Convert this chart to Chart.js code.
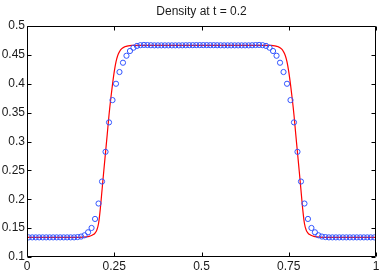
<!DOCTYPE html>
<html>
<head>
<meta charset="utf-8">
<script src="https://cdn.jsdelivr.net/npm/chart.js@4.4.0/dist/chart.umd.min.js"></script>
<style>
  html, body { margin: 0; padding: 0; background: #fff; }
</style>
</head>
<body>
<canvas id="densityChart" width="382" height="272"></canvas>
<script>
// cell centres of the numerical solution
const cellX = [
    0.005, 0.015, 0.025, 0.035, 0.045, 0.055, 0.065, 0.075, 0.085, 0.095,
    0.105, 0.115, 0.125, 0.135, 0.145, 0.155, 0.165, 0.175, 0.185, 0.195,
    0.205, 0.215, 0.225, 0.235, 0.245, 0.255, 0.265, 0.275, 0.285, 0.295,
    0.305, 0.315, 0.325, 0.335, 0.345, 0.355, 0.365, 0.375, 0.385, 0.395,
    0.405, 0.415, 0.425, 0.435, 0.445, 0.455, 0.465, 0.475, 0.485, 0.495,
    0.505, 0.515, 0.525, 0.535, 0.545, 0.555, 0.565, 0.575, 0.585, 0.595,
    0.605, 0.615, 0.625, 0.635, 0.645, 0.655, 0.665, 0.675, 0.685, 0.695,
    0.705, 0.715, 0.725, 0.735, 0.745, 0.755, 0.765, 0.775, 0.785, 0.795,
    0.805, 0.815, 0.825, 0.835, 0.845, 0.855, 0.865, 0.875, 0.885, 0.895,
    0.905, 0.915, 0.925, 0.935, 0.945, 0.955, 0.965, 0.975, 0.985, 0.995
];

// numerical density (blue circles)
const density = [
    0.134, 0.134, 0.134, 0.134, 0.134, 0.134, 0.134, 0.134, 0.134, 0.134,
    0.134, 0.134, 0.134, 0.134, 0.1345, 0.1354, 0.1376, 0.1428, 0.1503, 0.1659,
    0.1926, 0.2307, 0.2821, 0.3331, 0.3717, 0.4000, 0.4203, 0.4364, 0.4485, 0.4567,
    0.4624, 0.4655, 0.4668, 0.4672, 0.4670, 0.4667, 0.4665, 0.4665, 0.4665, 0.4665,
    0.4665, 0.4665, 0.4665, 0.4665, 0.4666, 0.4667, 0.4668, 0.4668, 0.4669, 0.4669,
    0.4669, 0.4669, 0.4668, 0.4668, 0.4667, 0.4666, 0.4665, 0.4665, 0.4665, 0.4665,
    0.4665, 0.4665, 0.4665, 0.4665, 0.4667, 0.4670, 0.4672, 0.4668, 0.4655, 0.4624,
    0.4567, 0.4485, 0.4364, 0.4203, 0.4000, 0.3717, 0.3331, 0.2821, 0.2307, 0.1926,
    0.1659, 0.1503, 0.1428, 0.1376, 0.1354, 0.1345, 0.134, 0.134, 0.134, 0.134,
    0.134, 0.134, 0.134, 0.134, 0.134, 0.134, 0.134, 0.134, 0.134, 0.134
];

// reference solution (red line)
const exactX = [
    0, 0.15, 0.17, 0.18, 0.19, 0.195, 0.2, 0.205, 0.21, 0.215, 0.22, 0.225,
    0.23, 0.235, 0.24, 0.245, 0.25, 0.255, 0.26, 0.265, 0.27, 0.28, 0.29, 0.3,
    0.5,
    0.7, 0.71, 0.72, 0.73, 0.735, 0.74, 0.745, 0.75, 0.755, 0.76, 0.765, 0.77,
    0.775, 0.78, 0.785, 0.79, 0.795, 0.8, 0.805, 0.81, 0.82, 0.83, 0.85, 1
];
const exactDensity = [
    0.134, 0.134, 0.1347, 0.1362, 0.1388, 0.1415, 0.1465, 0.158, 0.183, 0.216, 0.249, 0.281,
    0.313, 0.346, 0.374, 0.399, 0.421, 0.438, 0.449, 0.4555, 0.46, 0.464, 0.4657, 0.4663,
    0.4664,
    0.4663, 0.4657, 0.464, 0.46, 0.4555, 0.449, 0.438, 0.421, 0.399, 0.374, 0.346, 0.313,
    0.281, 0.249, 0.216, 0.183, 0.158, 0.1465, 0.1415, 0.1388, 0.1362, 0.1347, 0.134, 0.134
];

const xTicks = [0, 0.25, 0.5, 0.75, 1];
const xTickLabels = ['0', '0.25', '0.5', '0.75', '1'];
const yTicks = [0.1, 0.15, 0.2, 0.25, 0.3, 0.35, 0.4, 0.45, 0.5];
const yTickLabels = ['0.1', '0.15', '0.2', '0.25', '0.3', '0.35', '0.4', '0.45', '0.5'];

const fontFamily = "'Liberation Sans', Arial, Helvetica, sans-serif";
const textColor = '#1a1a1a';

// box around the axes with small inward tick marks, like matlab
const boxPlugin = {
    id: 'matlabBox',
    afterDraw(chart) {
        const ctx = chart.ctx;
        const area = chart.chartArea;
        const left = Math.round(area.left) + 0.5;
        const right = Math.round(area.right) - 0.5;
        const top = Math.round(area.top) + 0.5;
        const bottom = Math.round(area.bottom) - 0.5;
        const len = 4;

        ctx.save();
        ctx.strokeStyle = '#000';
        ctx.lineWidth = 1;
        ctx.beginPath();
        ctx.rect(left, top, right - left, bottom - top);

        xTicks.forEach(v => {
            const px = Math.round(chart.scales.x.getPixelForValue(v)) + 0.5;
            ctx.moveTo(px, bottom);
            ctx.lineTo(px, bottom - len);
            ctx.moveTo(px, top);
            ctx.lineTo(px, top + len);
        });
        yTicks.forEach(v => {
            const py = Math.round(chart.scales.y.getPixelForValue(v)) + 0.5;
            ctx.moveTo(left, py);
            ctx.lineTo(left + len, py);
            ctx.moveTo(right, py);
            ctx.lineTo(right - len, py);
        });
        ctx.stroke();
        ctx.restore();
    }
};

new Chart(document.getElementById('densityChart'), {
    type: 'scatter',
    data: {
        datasets: [{
            label: 'numerical',
            data: cellX.map((x, i) => ({ x: x, y: density[i] })),
            showLine: false,
            pointStyle: 'circle',
            pointRadius: 2.6,
            pointBorderWidth: 1,
            pointBorderColor: '#3355ff',
            pointBackgroundColor: 'rgba(0,0,0,0)'
        }, {
            label: 'exact',
            data: exactX.map((x, i) => ({ x: x, y: exactDensity[i] })),
            showLine: true,
            borderColor: '#ff0000',
            borderWidth: 1.2,
            pointRadius: 0,
            cubicInterpolationMode: 'monotone'
        }]
    },
    options: {
        responsive: false,
        animation: false,
        layout: {
            padding: { left: 0, right: 6, top: 0, bottom: 0 }
        },
        scales: {
            x: {
                type: 'linear',
                min: 0,
                max: 1,
                afterBuildTicks: scale => {
                    scale.ticks = xTicks.map(v => ({ value: v }));
                },
                afterFit: scale => {
                    scale.height = 15;
                },
                ticks: {
                    padding: 2,
                    maxRotation: 0,
                    color: textColor,
                    font: { family: fontFamily, size: 12 },
                    callback: (value) => xTickLabels[xTicks.indexOf(value)]
                },
                grid: { display: false, drawTicks: false },
                border: { display: false }
            },
            y: {
                type: 'linear',
                min: 0.1,
                max: 0.5,
                afterBuildTicks: scale => {
                    scale.ticks = yTicks.map(v => ({ value: v }));
                },
                afterFit: scale => {
                    scale.width = 27;
                },
                ticks: {
                    padding: 2,
                    color: textColor,
                    font: { family: fontFamily, size: 12 },
                    callback: (value) => yTickLabels[yTicks.indexOf(value)]
                },
                grid: { display: false, drawTicks: false },
                border: { display: false }
            }
        },
        plugins: {
            legend: { display: false },
            tooltip: { enabled: false },
            title: {
                display: true,
                text: 'Density at t = 0.2',
                fullSize: false,
                color: textColor,
                font: { family: fontFamily, size: 12, weight: 'normal' },
                padding: { top: 4, bottom: 7.6 }
            }
        }
    },
    plugins: [boxPlugin]
});
</script>
</body>
</html>
